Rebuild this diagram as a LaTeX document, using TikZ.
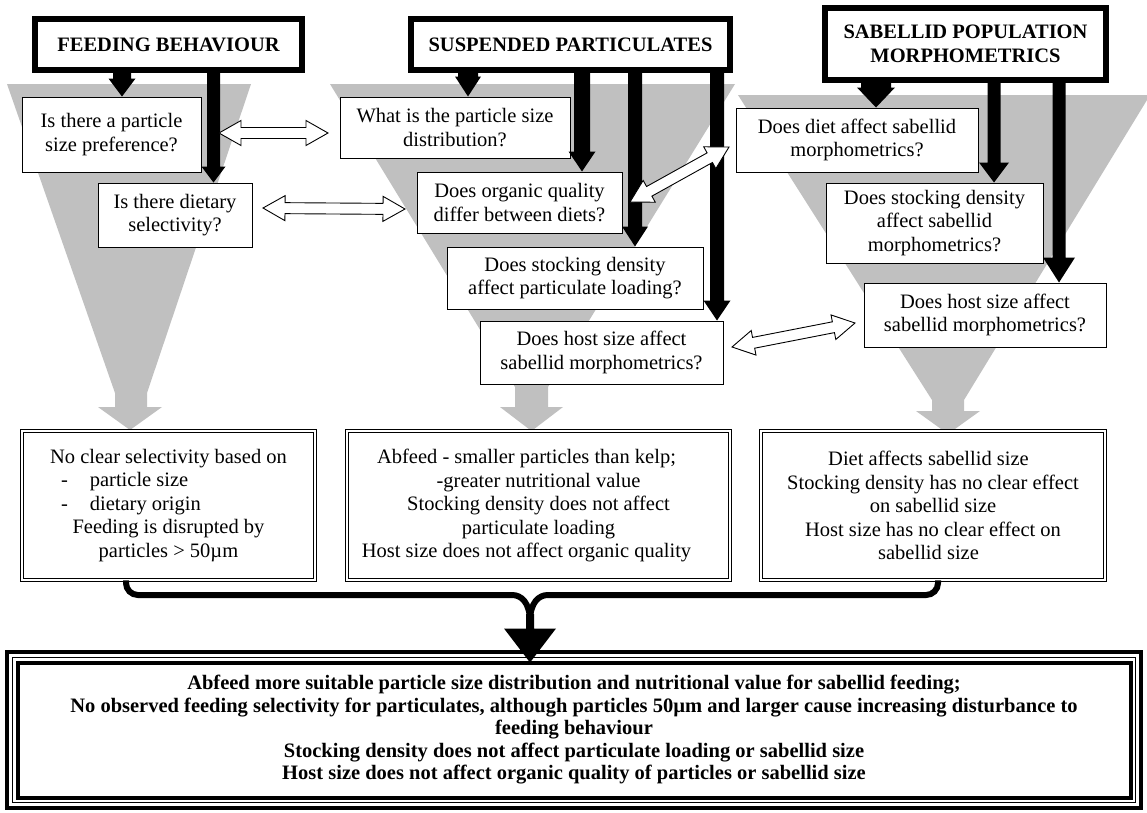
\documentclass[tikz,border=0pt]{standalone}
\usepackage{fontspec}
\setmainfont{Liberation Serif}
\usetikzlibrary{calc}
\definecolor{funnel}{RGB}{192,192,192}
\newcommand{\qf}{\fontsize{20.5pt}{23.5pt}\selectfont}
\newcommand{\tf}{\fontsize{20.5pt}{24pt}\selectfont\bfseries}
\newcommand{\ff}{\fontsize{20.5pt}{22.5pt}\selectfont\bfseries}
\newcommand{\shb}{\hspace*{24pt}}
\newcommand{\shc}{\hspace*{9pt}}
% #1 start, #2 tip, #3 shaft half width, #4 head half width, #5 head length
\newcommand{\blockarr}[5]{%
  \fill ($(#1)!#3!90:(#2)$) -- ($(#2)!#5!(#1)!#3!-90:(#1)$) -- ($(#2)!#5!(#1)!#4!-90:(#1)$) -- (#2)
   -- ($(#2)!#5!(#1)!#4!90:(#1)$) -- ($(#2)!#5!(#1)!#3!90:(#1)$) -- ($(#1)!#3!-90:(#2)$) -- cycle;}
\newcommand{\dblarr}[2]{%
  \draw[dbl] (#1) -- ($(#1)!22pt!(#2)!12.5pt!90:(#2)$) -- ($(#1)!22pt!(#2)!5.5pt!90:(#2)$)
   -- ($(#2)!22pt!(#1)!5.5pt!-90:(#1)$) -- ($(#2)!22pt!(#1)!12.5pt!-90:(#1)$) -- (#2)
   -- ($(#2)!22pt!(#1)!12.5pt!90:(#1)$) -- ($(#2)!22pt!(#1)!5.5pt!90:(#1)$)
   -- ($(#1)!22pt!(#2)!5.5pt!-90:(#2)$) -- ($(#1)!22pt!(#2)!12.5pt!-90:(#2)$) -- cycle;}
\begin{document}
\begin{tikzpicture}[x=1pt,y=-1pt,
  titlebox/.style={draw, line width=5.5pt, fill=white, align=center, font=\tf, inner sep=0pt},
  qbox/.style={draw, line width=1pt, fill=white, align=center, font=\qf, inner sep=0pt},
  rbox/.style={draw, double, double distance=2pt, line width=0.9pt, fill=white, align=center, font=\qf, inner sep=0pt},
  brace/.style={line width=6pt},
  dbl/.style={draw, fill=white, line width=0.9pt, line join=miter}]
\fill[white] (0,0) rectangle (1147,812);
\useasboundingbox (0,0) rectangle (1147,812);

% grey funnels
\fill[funnel] (7,84) -- (251,84) -- (147,393) -- (147,407) -- (162,407) -- (130,430) -- (98,407) -- (115,407) -- (115,393) -- cycle;
\fill[funnel] (330,84) -- (735,84) -- (548,387) -- (548,407) -- (563,407) -- (531.5,431) -- (500,407) -- (515,407) -- (515,387) -- cycle;
\fill[funnel] (738,95) -- (1147,95) -- (1147,100) -- (964,400) -- (964,411) -- (980,411) -- (948,434) -- (916,411) -- (932,411) -- (932,400) -- cycle;

% title boxes
\node[titlebox, minimum width=267pt, minimum height=51pt] (fb) at (168.5,44.5) {FEEDING BEHAVIOUR};
\node[titlebox, minimum width=319pt, minimum height=51pt] (sp) at (570.5,44.5) {SUSPENDED PARTICULATES};
\node[titlebox, minimum width=281pt, minimum height=72pt] (sab) at (965.5,44) {SABELLID POPULATION\\MORPHOMETRICS};

% question boxes
\node[qbox, minimum width=179pt, minimum height=75pt] (q1) at (111.5,134.5) {Is there a particle\\size preference?};
\node[qbox, minimum width=154pt, minimum height=64pt] (q2) at (175,215) {Is there dietary\\selectivity?};
\node[qbox, minimum width=230pt, minimum height=61pt] (p1) at (455,127.5) {What is the particle size\\distribution?};
\node[qbox, minimum width=205pt, minimum height=61pt] (p2) at (519.5,202.5) {Does organic quality\\differ between diets?};
\node[qbox, minimum width=256pt, minimum height=62pt] (p3) at (575,278) {Does stocking density\\affect particulate loading?};
\node[qbox, minimum width=243pt, minimum height=63pt] (p4) at (601.5,352.5) {Does host size affect\\sabellid morphometrics?};
\node[qbox, minimum width=242pt, minimum height=64pt] (s1) at (857,140) {Does diet affect sabellid\\morphometrics?};
\node[qbox, minimum width=217pt, minimum height=80pt] (s2) at (934.5,223) {Does stocking density\\affect sabellid\\morphometrics?};
\node[qbox, minimum width=242pt, minimum height=64pt] (s3) at (985,315) {Does host size affect\\sabellid morphometrics?};

% result boxes
\node[rbox, minimum width=293pt, minimum height=149pt] (b1) at (168.5,505.5) {No clear selectivity based on\\
  \makebox[230pt][l]{\hspace*{7.5pt}-\hspace*{22pt}particle size}\\
  \makebox[230pt][l]{\hspace*{7.5pt}-\hspace*{22pt}dietary origin}\\
  Feeding is disrupted by\\particles > 50µm};
\node[rbox, minimum width=383pt, minimum height=149pt] (b2) at (538.5,505.5) {Abfeed - smaller particles than kelp;\shb\\-greater nutritional value\shb\\Stocking density does not affect\shb\\particulate loading\shb\\Host size does not affect organic quality\shb};
\node[rbox, minimum width=344pt, minimum height=149pt] (b3) at (933,505.5) {Diet affects sabellid size\shc\\Stocking density has no clear effect\shc\\on sabellid size\shc\\Host size has no clear effect on\shc\\sabellid size\shc};

% final box
\node[draw, line width=4pt, outer sep=0pt, minimum width=1113pt, minimum height=135pt, inner sep=0pt, align=center, font=\ff] (final) at (574,730) {Abfeed more suitable particle size distribution and nutritional value for sabellid feeding;\\No observed feeding selectivity for particulates, although particles 50µm and larger cause increasing disturbance to\\feeding behaviour\\Stocking density does not affect particulate loading or sabellid size\\Host size does not affect organic quality of particles or sabellid size};
\draw[line width=1.2pt] ([shift={(-5pt,-5pt)}]final.south west) rectangle ([shift={(5pt,5pt)}]final.north east);
\draw[line width=4pt] ([shift={(-10.5pt,-10.5pt)}]final.south west) rectangle ([shift={(10.5pt,10.5pt)}]final.north east);

% black block arrows
\coordinate (a1s) at ([xshift=-46.5pt]fb.south); \coordinate (a1e) at ([xshift=10.5pt]q1.north);
\coordinate (a2s) at ([xshift=45pt]fb.south);    \coordinate (a2e) at ([xshift=38.5pt]q2.north);
\coordinate (b1s) at ([xshift=-102.5pt]sp.south); \coordinate (b1e) at ([xshift=13pt]p1.north);
\coordinate (b2s) at ([xshift=11.5pt]sp.south);  \coordinate (b2e) at ([xshift=62.5pt]p2.north);
\coordinate (b3s) at ([xshift=64.5pt]sp.south);  \coordinate (b3e) at ([xshift=60pt]p3.north);
\coordinate (b4s) at ([xshift=146.5pt]sp.south); \coordinate (b4e) at ([xshift=115.5pt]p4.north);
\coordinate (c1s) at ([xshift=-89.5pt]sab.south); \coordinate (c1e) at ([xshift=19pt]s1.north);
\coordinate (c2s) at ([xshift=28.5pt]sab.south); \coordinate (c2e) at ([xshift=59.5pt]s2.north);
\coordinate (c3s) at ([xshift=93.5pt]sab.south); \coordinate (c3e) at ([xshift=74pt]s3.north);
\blockarr{a1s}{a1e}{9pt}{13.5pt}{18pt}
\blockarr{a2s}{a2e}{6.5pt}{12pt}{16pt}
\blockarr{b1s}{b1e}{10pt}{13pt}{20pt}
\blockarr{b2s}{b2e}{8pt}{13.5pt}{20pt}
\blockarr{b3s}{b3e}{7pt}{13pt}{20pt}
\blockarr{b4s}{b4e}{7pt}{13.5pt}{20pt}
\blockarr{c1s}{c1e}{15pt}{19pt}{20pt}
\blockarr{c2s}{c2e}{6.5pt}{15pt}{20pt}
\blockarr{c3s}{c3e}{6.5pt}{16pt}{25pt}

% white double arrows
\coordinate (d1a) at (219,133); \coordinate (d1b) at (328,133);
\coordinate (d2a) at (263,208); \coordinate (d2b) at (405,209);
\coordinate (d3a) at (630,202); \coordinate (d3b) at (729,147);
\coordinate (d4a) at (732,347); \coordinate (d4b) at (855,323);
\dblarr{d1a}{d1b}
\dblarr{d2a}{d2b}
\dblarr{d3a}{d3b}
\dblarr{d4a}{d4b}

% bracket to conclusion
\coordinate (cl) at (500,595); \coordinate (cr) at (560,595); \coordinate (cm) at (530,622);
\draw[brace] ([xshift=-42.5pt]b1.south) [rounded corners=12pt] |- (cl) [sharp corners] .. controls (521,595) and (530,602) .. (cm);
\draw[brace] ([xshift=5pt]b3.south) [rounded corners=12pt] |- (cr) [sharp corners] .. controls (539,595) and (530,602) .. (cm);
\coordinate (ftip) at (cm |- final.north);
\coordinate (fst) at ([yshift=8pt]cm);
\blockarr{fst}{ftip}{4pt}{26pt}{34pt}
\end{tikzpicture}
\end{document}
